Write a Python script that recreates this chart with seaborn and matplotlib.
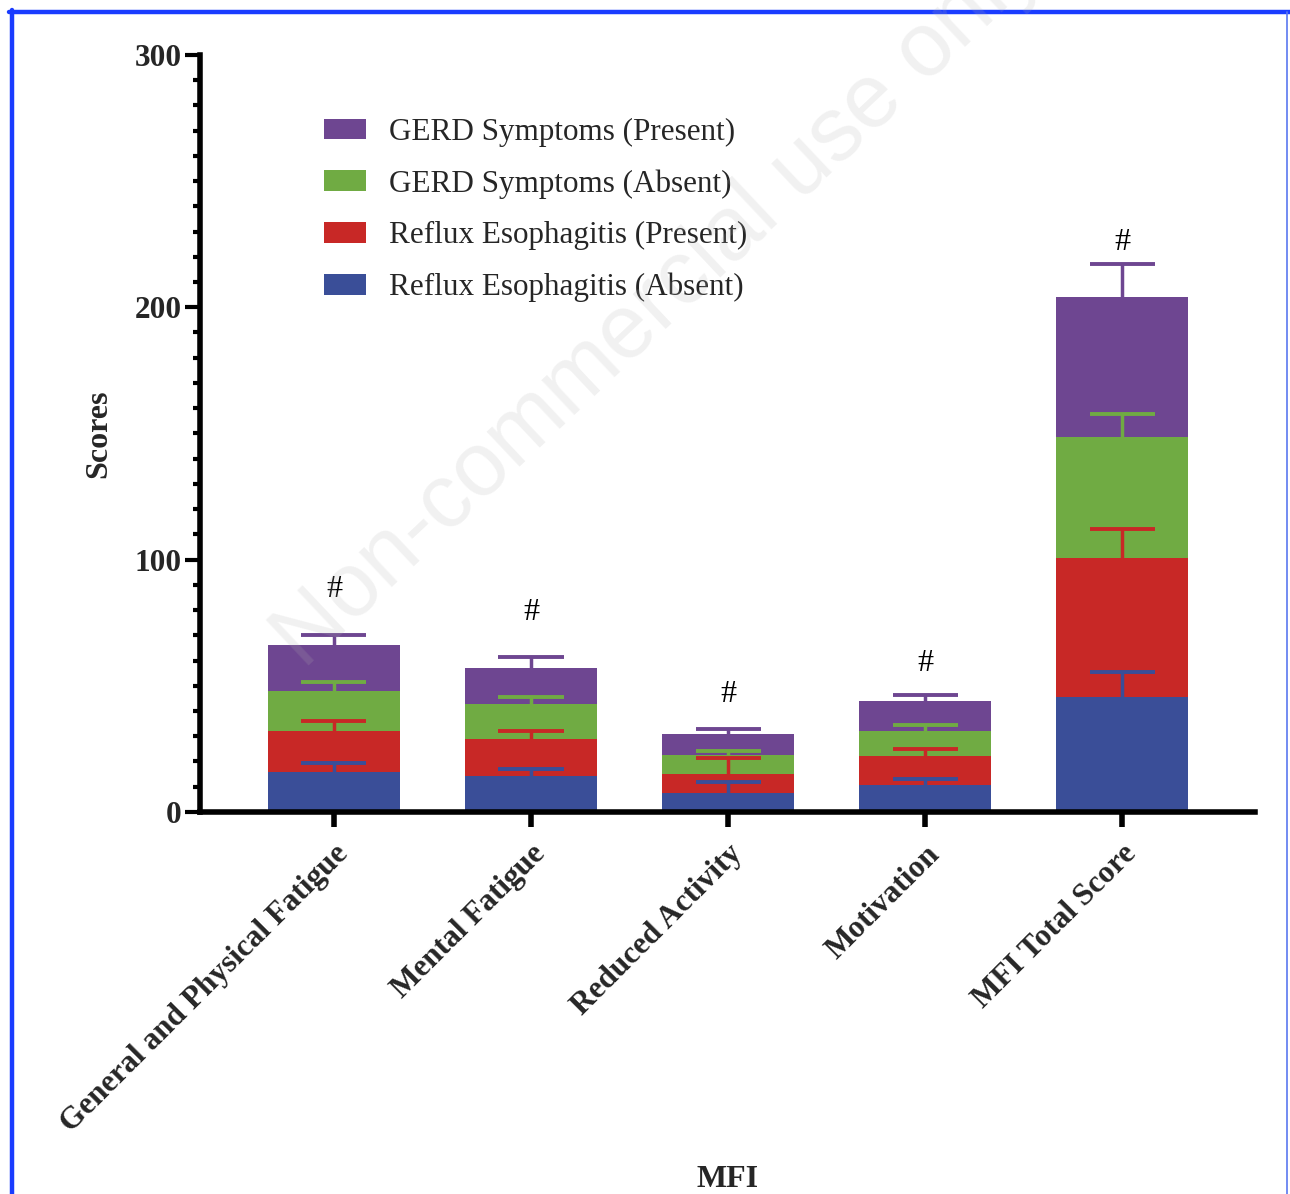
import numpy as np
import matplotlib
matplotlib.use("Agg")
import matplotlib.pyplot as plt
import seaborn as sns
from matplotlib.patches import Patch
from matplotlib.lines import Line2D
from matplotlib.ticker import MultipleLocator

# ---- data -------------------------------------------------------------
categories = ["General and Physical Fatigue", "Mental Fatigue",
              "Reduced Activity", "Motivation", "MFI Total Score"]

# stacked segment heights (bottom to top)
reflux_absent = [15.9, 14.4, 7.4, 10.7, 45.5]
reflux_present = [16.1, 14.6, 7.6, 11.4, 55.0]
gerd_absent = [15.9, 13.9, 7.6, 9.9, 48.0]
gerd_present = [18.1, 14.1, 8.2, 12.0, 55.5]

# upper error of each segment
reflux_absent_err = [3.4, 2.7, 4.6, 2.3, 9.9]
reflux_present_err = [4.1, 3.1, 6.2, 2.9, 11.6]
gerd_absent_err = [3.4, 2.6, 1.7, 2.5, 9.2]
gerd_present_err = [4.2, 4.4, 2.1, 2.5, 13.0]

series_labels = ["Reflux Esophagitis (Absent)", "Reflux Esophagitis (Present)",
                 "GERD Symptoms (Absent)", "GERD Symptoms (Present)"]
series_colors = ["#3A4E98", "#C82826", "#70AB43", "#6E4691"]

# significance markers and their heights
marker_text = ["#", "#", "#", "#", "#"]
marker_y = [88, 79, 46.5, 59, 225.5]

# ---- style ------------------------------------------------------------
sns.set_theme(style="ticks")
plt.rcParams["font.family"] = ["Liberation Serif", "DejaVu Serif"]

fig = plt.figure(figsize=(12.9, 11.94), dpi=100)
ax = fig.add_axes([0.155, 0.320, 0.818, 0.634])

values = [reflux_absent, reflux_present, gerd_absent, gerd_present]
errors = [reflux_absent_err, reflux_present_err, gerd_absent_err, gerd_present_err]

tops = []
cum = np.zeros(len(categories))
for v in values:
    cum = cum + np.asarray(v)
    tops.append(cum.copy())

# cumulative bars, tallest first so lower segments sit on top
for top, color in reversed(list(zip(tops, series_colors))):
    sns.barplot(x=categories, y=top, order=categories, color=color,
                saturation=1, width=0.67, errorbar=None, linewidth=0,
                ax=ax, zorder=2)

# upper error bars: stem plus cap
xpos = np.arange(len(categories))
cap_half = 0.165
for top, err, color in zip(tops, errors, series_colors):
    upper = top + np.asarray(err)
    ax.vlines(xpos, top, upper, color=color, lw=2.5, zorder=4)
    ax.hlines(upper, xpos - cap_half, xpos + cap_half, color=color,
              lw=2.8, zorder=4)

for x, y, t in zip(xpos, marker_y, marker_text):
    ax.text(x, y, t, ha="center", va="center", fontsize=23, color="black")

# ---- axes -------------------------------------------------------------
ax.set_ylim(0, 300)
ax.set_xlim(-0.68, 4.675)
ax.yaxis.set_major_locator(MultipleLocator(100))
ax.yaxis.set_minor_locator(MultipleLocator(10))
for s in ["top", "right"]:
    ax.spines[s].set_visible(False)
for s in ["left", "bottom"]:
    ax.spines[s].set_linewidth(4)
    ax.spines[s].set_color("black")
ax.tick_params(axis="y", which="major", length=11, width=3, color="black",
               labelsize=22.5, pad=2)
ax.tick_params(axis="y", which="minor", length=5, width=3, color="black")
ax.tick_params(axis="x", which="major", length=11, width=4, color="black",
               labelsize=22.5, pad=9)
for lab in ax.get_yticklabels():
    lab.set_fontweight("bold")
ax.set_xticks(xpos)
ax.set_xticklabels(categories, rotation=45, ha="right",
                   rotation_mode="anchor", fontweight="bold")

ax.set_ylabel("Scores", fontsize=23, fontweight="bold")
ax.yaxis.set_label_coords(-0.0825, 0.5)
ax.set_xlabel("")
fig.text(728 / 1290, 1 - 1187 / 1194, "MFI", ha="center", va="baseline",
         fontsize=23, fontweight="bold")

handles = [Patch(facecolor=c, edgecolor="none", label=l)
           for l, c in zip(series_labels, series_colors)][::-1]
ax.legend(handles=handles, loc="upper left", bbox_to_anchor=(0.118, 0.917),
          frameon=False, fontsize=22.4, handlelength=1.32, handleheight=0.65,
          handletextpad=0.75, labelspacing=0.72, borderaxespad=0,
          borderpad=0)

# watermark
fig.text(658 / 1290, 1 - 304 / 1194, "Non-commercial use only", rotation=43.3,
         fontsize=65, color="0.7", alpha=0.18, ha="center", va="center",
         family=["Liberation Sans", "DejaVu Sans"], zorder=10,
         rotation_mode="anchor")

# blue frame
fig.add_artist(Line2D([0.007, 1.0], [1 - 12 / 1194] * 2,
                      transform=fig.transFigure, color="#1a3cff", lw=3.2))
fig.add_artist(Line2D([12 / 1290] * 2, [0.0, 1 - 10 / 1194],
                      transform=fig.transFigure, color="#1a3cff", lw=3.2))
fig.add_artist(Line2D([1287 / 1290] * 2, [0.0, 1 - 12 / 1194],
                      transform=fig.transFigure, color="#5a78f0", lw=1.2))

fig.savefig("out.png", dpi=100)
